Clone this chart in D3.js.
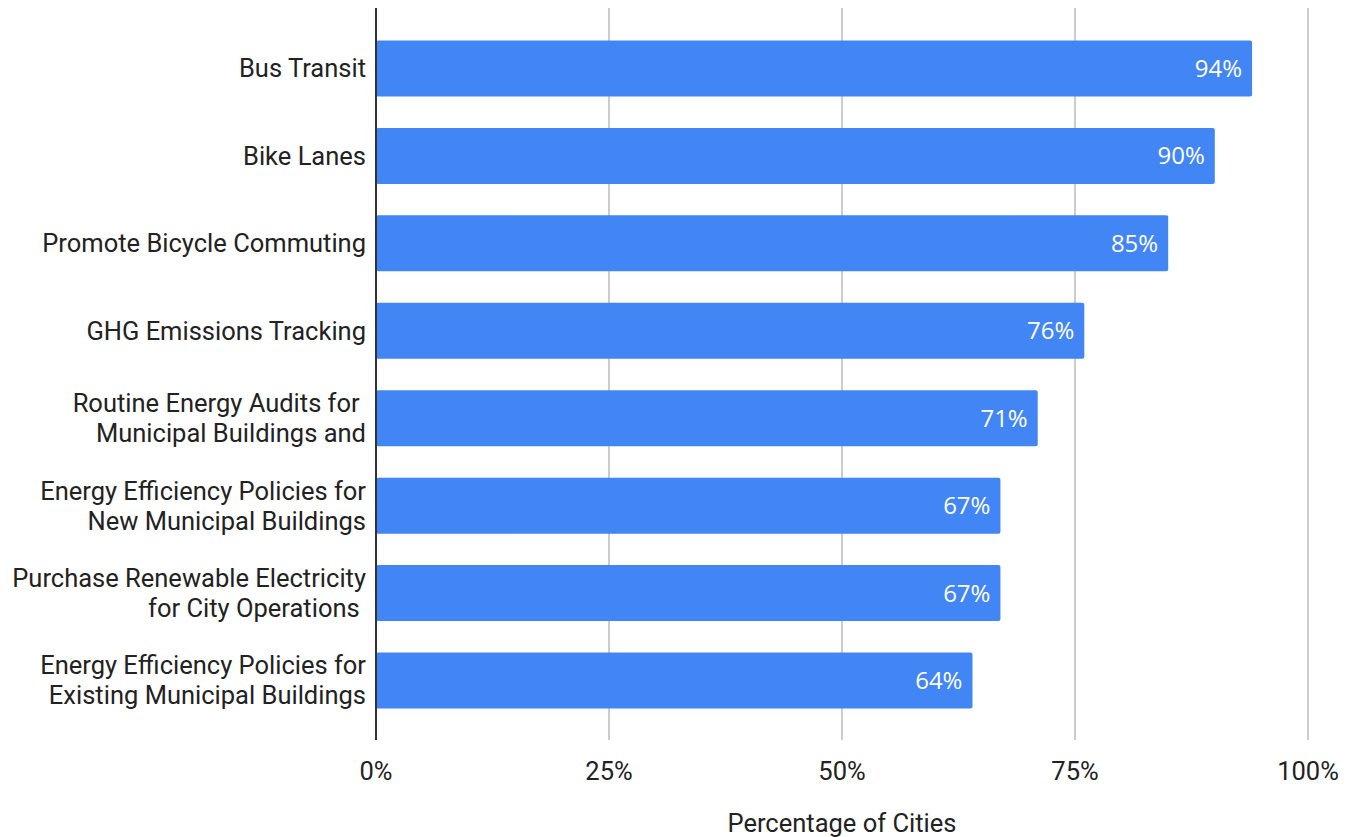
<!DOCTYPE html>
<html>
<head>
<meta charset="utf-8">
<script src="https://cdn.jsdelivr.net/npm/d3@7"></script>
<style>
  html, body { margin: 0; padding: 0; background: #fff; }
  svg { display: block; }
</style>
</head>
<body>
<svg id="chart" width="1346" height="837"></svg>
<script>
// Actions taken by cities, share of cities (%)
const categories = [
  ["Bus Transit"],
  ["Bike Lanes"],
  ["Promote Bicycle Commuting"],
  ["GHG Emissions Tracking"],
  ["Routine Energy Audits for ", "Municipal Buildings and"],
  ["Energy Efficiency Policies for", "New Municipal Buildings"],
  ["Purchase Renewable Electricity", "for City Operations "],
  ["Energy Efficiency Policies for", "Existing Municipal Buildings"]
];
const values = [94, 90, 85, 76, 71, 67, 67, 64];
const tickValues = [0, 25, 50, 75, 100];
const axisTitle = "Percentage of Cities";

const svg = d3.select("#chart");
const margin = { left: 376, right: 38, top: 9, bottom: 97 };
const W = 1346, H = 837;

const x = d3.scaleLinear().domain([0, 100]).range([margin.left, W - margin.right]);
const y = d3.scaleBand()
  .domain(d3.range(categories.length))
  .range([margin.top, H - margin.bottom])
  .paddingInner(0.36)
  .paddingOuter(0.36);

const font = "Roboto, 'Liberation Sans', sans-serif";
const fs = 25.5;

// vertical gridlines
svg.append("g")
  .selectAll("line")
  .data(tickValues.filter(d => d > 0))
  .join("line")
  .attr("x1", d => x(d)).attr("x2", d => x(d))
  .attr("y1", margin.top - 1).attr("y2", H - margin.bottom)
  .attr("stroke", "#cccccc")
  .attr("stroke-width", 2);

// bars
svg.append("g")
  .selectAll("rect")
  .data(values)
  .join("rect")
  .attr("x", x(0))
  .attr("y", (d, i) => y(i))
  .attr("width", d => x(d) - x(0))
  .attr("height", y.bandwidth())
  .attr("rx", 2).attr("ry", 2)
  .attr("fill", "#4285F4");

// value labels inside bar ends
svg.append("g")
  .selectAll("text")
  .data(values)
  .join("text")
  .attr("x", d => x(d) - 10)
  .attr("y", (d, i) => y(i) + y.bandwidth() / 2)
  .attr("dy", "0.35em")
  .attr("text-anchor", "end")
  .attr("font-family", "'Open Sans', Roboto, sans-serif")
  .attr("font-size", 24)
  .attr("fill", "#ffffff")
  .text(d => d + "%");

// left axis line
svg.append("line")
  .attr("x1", x(0)).attr("x2", x(0))
  .attr("y1", margin.top - 1).attr("y2", H - margin.bottom)
  .attr("stroke", "#333333")
  .attr("stroke-width", 2);

// category labels
const lineH = 30;
const cat = svg.append("g")
  .selectAll("text")
  .data(categories)
  .join("text")
  .attr("text-anchor", "end")
  .attr("font-family", font)
  .attr("font-size", fs)
  .attr("fill", "#222222")
  .style("white-space", "pre")
  .attr("transform", (d, i) => `translate(${x(0) - 10},${y(i) + y.bandwidth() / 2})`);
cat.selectAll("tspan")
  .data(d => d.map((t, k) => ({ t, k, n: d.length })))
  .join("tspan")
  .attr("x", 0)
  .attr("y", d => (d.k - (d.n - 1) / 2) * lineH)
  .attr("dy", "0.35em")
  .text(d => d.t);

// bottom tick labels
svg.append("g")
  .selectAll("text")
  .data(tickValues)
  .join("text")
  .attr("x", d => x(d))
  .attr("y", 771)
  .attr("dy", "0.35em")
  .attr("text-anchor", "middle")
  .attr("font-family", font)
  .attr("font-size", fs)
  .attr("fill", "#222222")
  .text(d => d + "%");

// axis title
svg.append("text")
  .attr("x", (x(0) + x(100)) / 2)
  .attr("y", 823)
  .attr("dy", "0.35em")
  .attr("text-anchor", "middle")
  .attr("font-family", font)
  .attr("font-size", fs)
  .attr("fill", "#222222")
  .text(axisTitle);
</script>
</body>
</html>
